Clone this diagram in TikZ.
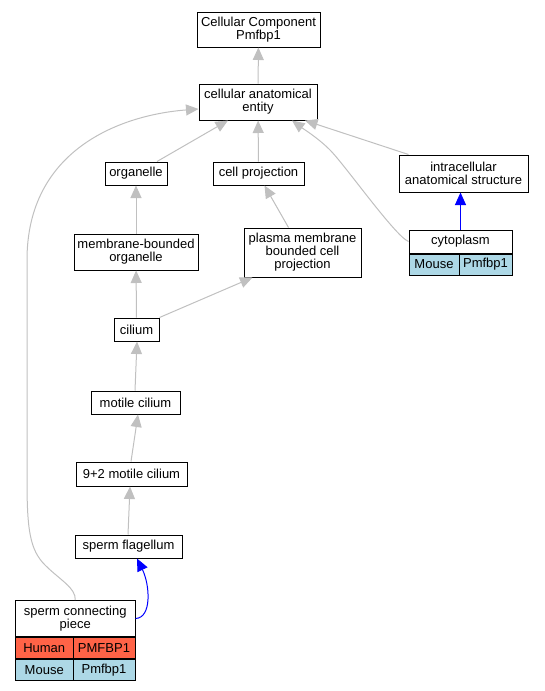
\documentclass[tikz,border=0pt]{standalone}
\usepackage{fontspec}
\setmainfont{Liberation Sans}
\usetikzlibrary{arrows.meta,positioning}
\definecolor{edgegray}{HTML}{C0C0C0}
\definecolor{humanred}{HTML}{FF6347}
\definecolor{mouseblue}{HTML}{ADD8E6}

\begin{document}
\begin{tikzpicture}[x=1pt, y=-1pt, font=\fontsize{13}{13}\selectfont]
    \tikzset{>={Triangle[length=12.5pt, width=11pt]}}
    % Draw the term boxes
    \tikzstyle{term}  = [rectangle, draw = black, line width = 1pt, fill = white, inner sep = 0pt, align = center]
    \tikzstyle{cell}  = [rectangle, draw = black, line width = 1pt, inner sep = 0pt, minimum height = 21pt]
    \tikzstyle{isa}   = [line width = 1pt, draw = edgegray, ->, edgegray]
    \tikzstyle{annot} = [line width = 1pt, draw = blue, ->, blue]

    \useasboundingbox (0,0) rectangle (544,691);

    \node[term, minimum width = 123pt, minimum height = 35pt] (cc) at (258.5,29.5) {Cellular Component\\Pmfbp1};
    \node[term, minimum width = 118pt, minimum height = 36pt] (cae) at (258,102) {cellular anatomical\\entity};
    \node[term, minimum width = 62pt,  minimum height = 23pt] (organelle) at (136,173.5) {organelle};
    \node[term, minimum width = 91pt,  minimum height = 23pt] (cellproj) at (258.5,173.5) {cell projection};
    \node[term, minimum width = 129pt, minimum height = 37pt] (intra) at (463.5,173.5) {intracellular\\anatomical structure};
    \node[term, minimum width = 124pt, minimum height = 36pt] (mbo) at (136,252) {membrane-bounded\\organelle};
    \node[term, minimum width = 117pt, minimum height = 49pt] (pmbcp) at (302.5,252.5) {plasma membrane\\bounded cell\\projection};
    \node[term, minimum width = 45pt,  minimum height = 23pt] (cilium) at (136.5,329.5) {cilium};
    \node[term, minimum width = 89pt,  minimum height = 23pt] (motile) at (135.5,402.5) {motile cilium};
    \node[term, minimum width = 111pt, minimum height = 24pt] (ninetwo) at (131.5,474) {9+2 motile cilium};
    \node[term, minimum width = 107pt, minimum height = 23pt] (flagellum) at (128.5,546.5) {sperm flagellum};

    % cytoplasm with its gene table
    \node[term, minimum width = 103pt, minimum height = 23pt] (cyto) at (460.5,241.5) {cytoplasm};
    \node[cell, fill = mouseblue, minimum width = 50pt, anchor = north west] (cytomouse) at (cyto.south west) {Mouse};
    \node[cell, fill = mouseblue, minimum width = 53pt, anchor = north east] (cytogene) at (cyto.south east) {Pmfbp1};

    % sperm connecting piece with its gene table
    \node[term, minimum width = 119.5pt, minimum height = 36pt] (scp) at (75.25,618.5) {sperm connecting\\piece};
    \node[cell, fill = humanred, minimum width = 57.5pt, anchor = north west] (scphuman) at (scp.south west) {Human};
    \node[cell, fill = humanred, minimum width = 62pt, anchor = north east] (scphgene) at (scp.south east) {PMFBP1};
    \node[cell, fill = mouseblue, minimum width = 57.5pt, anchor = north west] (scpmouse) at (scphuman.south west) {Mouse};
    \node[cell, fill = mouseblue, minimum width = 62pt, anchor = north east] (scpmgene) at (scphgene.south east) {Pmfbp1};

    \draw[isa] (cae) -- (cc);
    \draw[isa] ([xshift=21pt]organelle.north) -- ([xshift=-30pt]cae.south);
    \draw[isa] (cellproj) -- (cae);
    \draw[isa] ([xshift=-55pt]intra.north) -- ([xshift=47pt]cae.south);
    \draw[isa] (cyto.west) .. controls (395,236) and (345,165) .. (330,150) .. controls (318,138) and (305,130) .. ([xshift=34pt]cae.south);
    \draw[isa] (scp.north) .. controls (76,588) and (60,580) .. (45,565) .. controls (30,550) and (27,530) .. (27,480) -- (27,260) .. controls (27,150) and (120,115) .. ([yshift=-7pt]cae.west);
    \draw[isa] (mbo) -- (organelle);
    \draw[isa] ([xshift=-14pt]pmbcp.north) -- ([xshift=6pt]cellproj.south);
    \draw[isa] (cilium) -- (mbo);
    \draw[isa] (cilium.north east) -- ([xshift=-50pt]pmbcp.south);
    \draw[isa] ([xshift=-0.5pt]motile.north) -- ([xshift=0.5pt]cilium.south);
    \draw[isa] ([xshift=-0.5pt]ninetwo.north) -- ([xshift=2.5pt]motile.south);
    \draw[isa] ([xshift=-0.5pt]flagellum.north) -- ([xshift=-1.5pt]ninetwo.south);

    \draw[annot] (cyto.north) -- (cyto.north |- intra.south);
    \draw[annot] (scp.east) .. controls (152,618) and (150,585) .. ([xshift=8.5pt]flagellum.south);
\end{tikzpicture}
\end{document}
